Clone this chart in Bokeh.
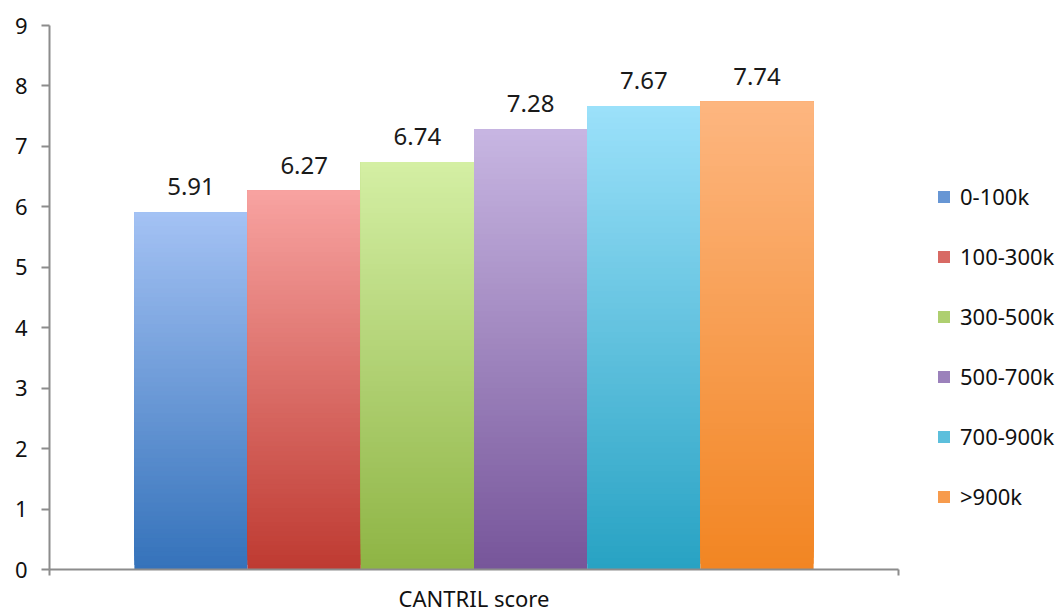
from bokeh.plotting import figure
from bokeh.models import Range1d, FixedTicker, Legend, LegendItem, ColumnDataSource
from bokeh.core.properties import value
from bokeh.embed import file_html
from bokeh.resources import INLINE

# Income groups and mean CANTRIL score per group
groups = ["0-100k", "100-300k", "300-500k", "500-700k", "700-900k", ">900k"]
scores = [5.91, 6.27, 6.74, 7.28, 7.67, 7.74]
y_ticks = [0, 1, 2, 3, 4, 5, 6, 7, 8, 9]
x_label = "CANTRIL score"

# gradient end colours per series (top, bottom)
top_colors = ["#A4C2F4", "#F8A3A1", "#D4EFA4", "#C8B6E2", "#9CE1FA", "#FDB680"]
bottom_colors = ["#3472BA", "#BE3A31", "#8EB444", "#76559A", "#27A2C3", "#F28522"]

FONT = "Noto Sans"
AXIS_GREY = "#8c8c8c"


def hex_to_rgb(h):
    h = h.lstrip("#")
    return tuple(int(h[i:i + 2], 16) for i in (0, 2, 4))


def mix(c1, c2, t):
    a, b = hex_to_rgb(c1), hex_to_rgb(c2)
    return "#%02x%02x%02x" % tuple(round(a[k] + (b[k] - a[k]) * t) for k in range(3))


# plot area runs to the right edge so the legend sits inside it;
# the category axis itself only spans 0..1
X_MAX = (1063 - 49) / 849.0
p = figure(width=1063, height=615, output_backend="svg", toolbar_location=None,
           x_range=Range1d(0, X_MAX), y_range=Range1d(0, 9),
           min_border_left=49, min_border_right=0, min_border_top=25,
           min_border_bottom=45)
p.outline_line_color = None
p.xgrid.visible = False
p.ygrid.visible = False
p.background_fill_color = "white"
p.border_fill_color = "white"

# clustered bars: gap of 1.5 bar widths split around the group
n = len(groups)
bw = 1.0 / (n + 1.5)
x0 = 0.75 * bw
centers = [x0 + (i + 0.5) * bw for i in range(n)]

STEPS = 80
legend_items = []
for i, (g, v) in enumerate(zip(groups, scores)):
    # vertical gradient: each slice runs from its base up to the bar top,
    # painted bottom-up so that later (lighter) slices cover the upper part
    bottoms = [v * k / STEPS for k in range(STEPS)]
    cols = [mix(bottom_colors[i], top_colors[i], (k + 0.5) / STEPS) for k in range(STEPS)]
    src = ColumnDataSource(dict(
        left=[centers[i] - bw / 2] * STEPS,
        right=[centers[i] + bw / 2] * STEPS,
        bottom=bottoms,
        top=[v] * STEPS,
        color=cols,
    ))
    r = p.quad(left="left", right="right", bottom="bottom", top="top",
               fill_color="color", line_color=None, source=src)
    # legend swatch uses a mid-gradient slice of the bar
    legend_items.append(LegendItem(label=g, renderers=[r], index=int(STEPS * 0.45)))

# value labels above each bar
p.text(x=centers, y=scores, text=["%.2f" % s for s in scores],
       text_font=value(FONT), text_font_size="24px", text_color="#1a1a1a",
       text_align="center", text_baseline="bottom", y_offset=-17)

# y axis
ya = p.yaxis[0]
ya.ticker = FixedTicker(ticks=y_ticks)
ya.axis_line_color = AXIS_GREY
ya.axis_line_width = 2
ya.major_tick_line_color = AXIS_GREY
ya.major_tick_line_width = 2
ya.major_tick_out = 8
ya.major_tick_in = 0
ya.minor_tick_line_color = None
ya.major_label_text_font = FONT
ya.major_label_text_font_size = "22px"
ya.major_label_text_color = "#111111"
ya.major_label_standoff = 14

# x axis: one category label in the middle, boundary ticks at both ends
xa = p.xaxis[0]
xa.ticker = FixedTicker(ticks=[0.5], minor_ticks=[0, 1])
xa.bounds = (0, 1)
xa.axis_line_color = AXIS_GREY
xa.axis_line_width = 2
xa.major_tick_line_color = None
xa.major_tick_out = 0
xa.major_tick_in = 0
xa.minor_tick_line_color = AXIS_GREY
xa.minor_tick_line_width = 2
xa.minor_tick_out = 6
xa.minor_tick_in = 0
xa.major_label_overrides = {0.5: x_label}
xa.major_label_text_font = FONT
xa.major_label_text_font_size = "22px"
xa.major_label_text_color = "#111111"
xa.major_label_standoff = 7

legend = Legend(items=legend_items, location=(887, 58),
                glyph_width=15, glyph_height=15, label_height=20,
                spacing=30, padding=0, margin=0, label_standoff=9,
                label_text_font=FONT, label_text_font_size="22px",
                label_text_color="#111111",
                border_line_color=None, background_fill_alpha=0)
p.add_layout(legend, "center")

open("out.html", "w").write(file_html(p, INLINE))
